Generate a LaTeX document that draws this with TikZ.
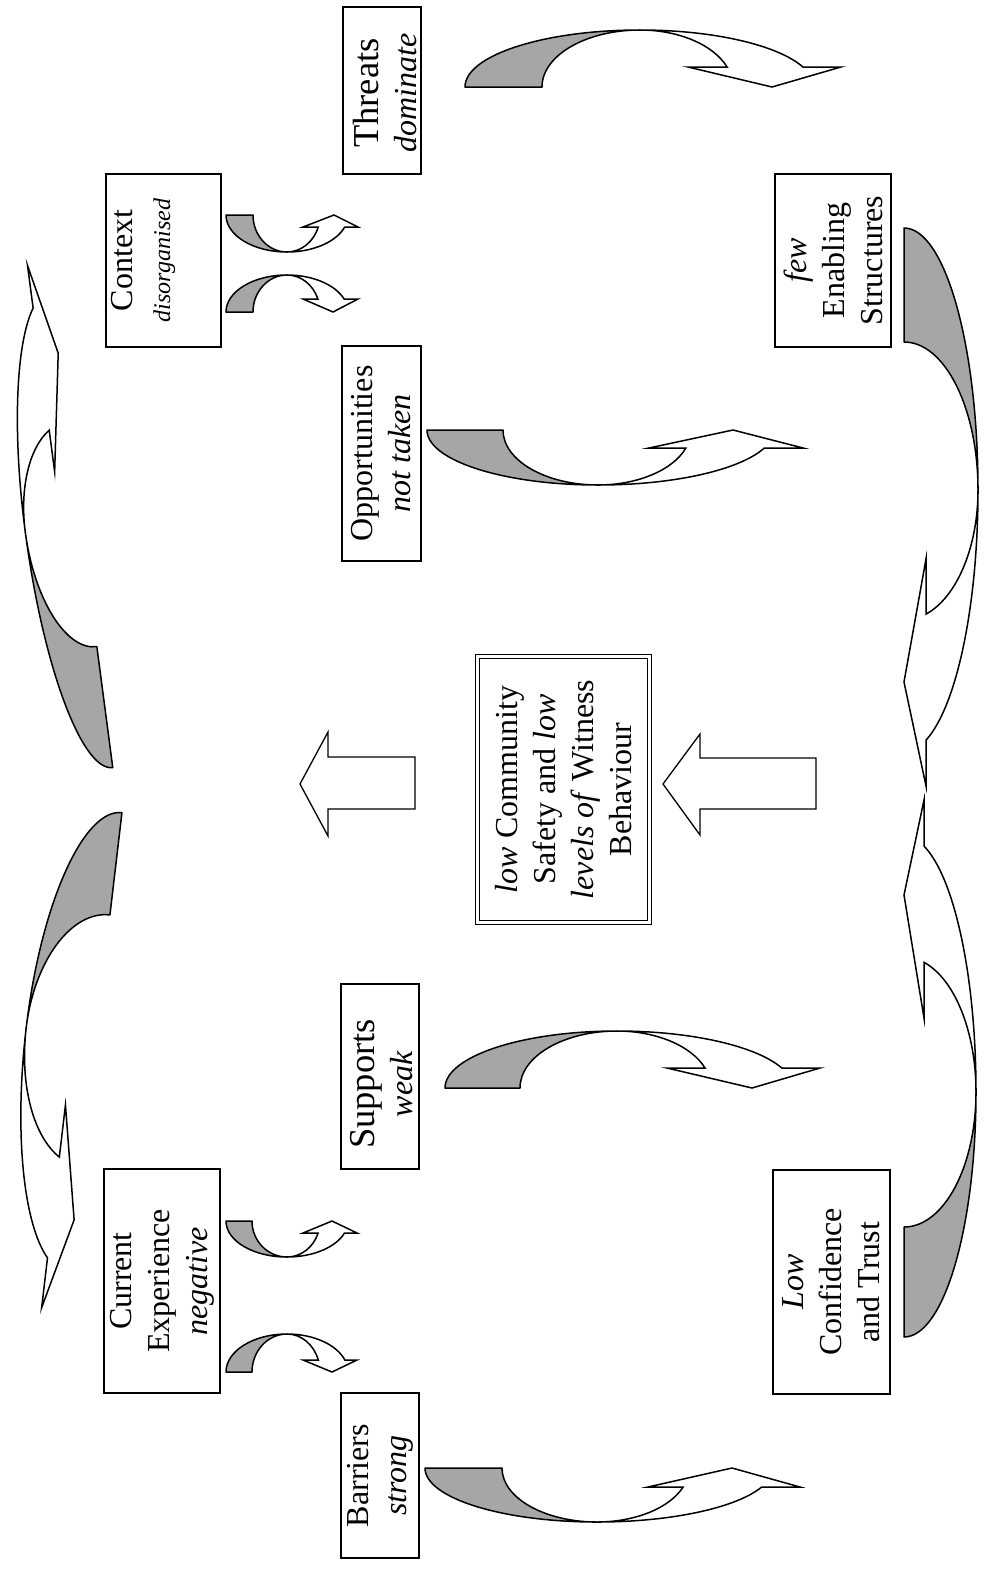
\documentclass[tikz,border=0pt]{standalone}
\usepackage{fontspec}
\setmainfont{Liberation Serif}
\newcommand{\dgfont}{\fontsize{32}{38}\selectfont}
\newcommand{\bigfnt}{\fontsize{36.5}{38}\selectfont}
\newcommand{\smallfnt}{\fontsize{24}{28}\selectfont}
\tikzset{
  grayband/.style={fill=black!35, draw=black, line width=1.5pt, line join=round},
  whiteband/.style={fill=white, draw=black, line width=1.5pt, line join=miter, miter limit=20},
  box/.style={draw, line width=1.2pt, rectangle, inner sep=0pt, align=center, rotate=90, font=\dgfont},
  txt/.style={inner sep=0pt, align=center, rotate=90, font=\dgfont},
  blockarrow/.style={draw, line width=1.3pt, fill=white, line join=miter},
}
% #1 A, #2 a, #3 b, #4 Aw, #5 aw, #6 vb, #7 outer corner, #8 inner corner, #9 tip
\newcommand{\curvarr}[9]{%
  \pgfmathsetmacro{\cvth}{asin(#6/#3)}%
  \pgfmathsetmacro{\cvxo}{#4*cos(\cvth)}%
  \pgfmathsetmacro{\cvxi}{#5*cos(\cvth)}%
  \filldraw[grayband] (-#1,0) arc[start angle=180, end angle=270, x radius=#1, y radius=#3]
     arc[start angle=270, end angle=180, x radius=#2, y radius=#3] -- cycle;
  \filldraw[whiteband] (0,-#3) arc[start angle=270, end angle=360-\cvth, x radius=#4, y radius=#3]
     -- (#7,-#6) -- (#9,0) -- (#8,-#6) -- (\cvxi,-#6)
     arc[start angle=360-\cvth, end angle=270, x radius=#5, y radius=#3] -- cycle;
}
\begin{document}
\begin{tikzpicture}[x=1pt,y=-1pt]
\useasboundingbox (0,0) rectangle (985,1572);

% boxes
\node[box, minimum width=167, minimum height=78] (threats) at (382,90.5) {};
\node[txt] (threatstext) at (385,93) {{\bigfnt Threats}\\\textit{dominate}};
\node[box, minimum width=173, minimum height=115] (context) at (163.5,260.5) {};
\node[txt] (contexttext) at (143,260.5) {Context\\{\smallfnt\itshape disorganised}};
\node[box, minimum width=215, minimum height=79] (opport) at (381.5,453.5) {Opportunities\\\textit{not taken}};
\node[box, minimum width=173, minimum height=116] (enabling) at (833,260.5) {\textit{few}\\Enabling\\Structures};
\node[box, double, double distance=3.5pt, line width=1pt, minimum width=266, minimum height=172] (centre) at (563.5,789.5)
   {\fontsize{32}{36}\selectfont\textit{low} Community\\Safety and \textit{low}\\\textit{levels of} Witness\\Behaviour};
\node[box, minimum width=185, minimum height=78] (supports) at (380,1076.5) {};
\node[txt] (supportstext) at (382,1084) {{\bigfnt Supports}\\\textit{weak}};
\node[box, minimum width=224, minimum height=116] (current) at (162,1281) {Current\\Experience\\\textit{negative}};
\node[box, minimum width=165, minimum height=78] (barriers) at (380,1475.5) {Barriers\\\textit{strong}};
\node[box, minimum width=224, minimum height=117] (confidence) at (831.5,1282) {\textit{Low}\\Confidence\\and Trust};

% block arrows
\draw[blockarrow] (300,784) -- (328,732) -- (328,757) -- (415,757) -- (415,809) -- (328,809) -- (328,836) -- cycle;
\draw[blockarrow] (663,784) -- (700,734) -- (700,758) -- (816,758) -- (816,809) -- (700,809) -- (700,835) -- cycle;

% horizontal curved arrows
\begin{scope}[shift={(640,87)}] \curvarr{175}{98}{57}{174}{93}{20}{201}{48}{132} \end{scope}
\begin{scope}[shift={(598,430)}, yscale=-1] \curvarr{171}{95}{55}{176}{93}{18}{205}{51}{135} \end{scope}
\begin{scope}[shift={(617,1088)}] \curvarr{172}{97}{57}{176}{94}{20}{203}{50}{135} \end{scope}
\begin{scope}[shift={(597,1468)}, yscale=-1] \curvarr{172}{95}{54}{176}{92}{19}{203}{51}{135} \end{scope}

% small curved arrows
\begin{scope}[shift={(287,215)}, yscale=-1] \curvarr{61}{34}{37}{61}{33}{12}{71}{16}{47} \end{scope}
\begin{scope}[shift={(287,312)}] \curvarr{61}{34}{37}{61}{33}{13}{71}{16}{46} \end{scope}
\begin{scope}[shift={(287,1221)}, yscale=-1] \curvarr{61}{35}{36}{61}{33}{12}{70}{16}{45} \end{scope}
\begin{scope}[shift={(287,1372)}] \curvarr{61}{35}{38}{61}{33}{12}{70}{16}{45} \end{scope}

% side curved arrows
\begin{scope}[shift={(80.8,524.7)}, rotate=97.5] \curvarr{245}{123}{56}{235}{104}{19}{264}{56}{173} \end{scope}
\begin{scope}[shift={(95.7,1036.1)}, rotate=-96.7, yscale=-1] \curvarr{225}{122}{70}{238}{131}{22}{276}{72}{185} \end{scope}
\begin{scope}[shift={(904,490)}, rotate=-90] \curvarr{262}{148}{74}{262}{130}{22}{296}{69}{192} \end{scope}
\begin{scope}[shift={(904,1092)}, rotate=90, yscale=-1] \curvarr{245}{135}{72}{256}{135}{20}{292}{74}{197} \end{scope}
\end{tikzpicture}
\end{document}
